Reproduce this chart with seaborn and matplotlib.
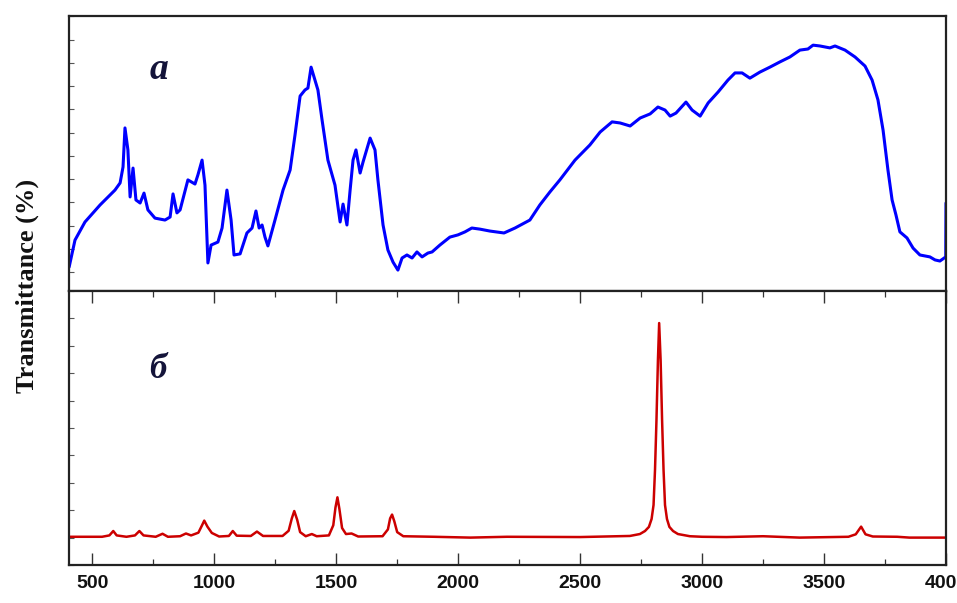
import numpy as np
import pandas as pd
import matplotlib
matplotlib.use("Agg")
import matplotlib.pyplot as plt
from matplotlib.ticker import MultipleLocator, FixedLocator
import seaborn as sns

# ---- spectrum (a): wavenumber (cm-1) and transmittance (arb. %) ----
wn_a = [405, 429, 470, 532, 593, 614, 626, 634, 646, 655, 667, 679, 696, 712, 728,
        757, 798, 819, 831, 847, 860, 892, 921, 933, 950, 962, 974, 987, 1015, 1032,
        1052, 1069, 1081, 1106, 1134, 1155, 1171, 1184, 1196, 1208, 1220, 1249, 1282,
        1311, 1331, 1352, 1372, 1384, 1397, 1413, 1425, 1442, 1466, 1495, 1516, 1528,
        1544, 1557, 1569, 1581, 1598, 1610, 1639, 1659, 1671, 1692, 1712, 1733, 1753,
        1770, 1790, 1811, 1831, 1852, 1876, 1893, 1925, 1966, 1999, 2028, 2056, 2089,
        2130, 2188, 2233, 2294, 2335, 2376, 2417, 2479, 2540, 2582, 2631, 2664, 2705,
        2746, 2787, 2819, 2848, 2869, 2893, 2934, 2959, 2992, 3025, 3066, 3106, 3135,
        3164, 3196, 3237, 3278, 3319, 3360, 3401, 3434, 3455, 3483, 3524, 3545, 3586,
        3627, 3668, 3697, 3721, 3742, 3762, 3779, 3795, 3811, 3840, 3865, 3893, 3934,
        3955, 3975, 3999, 4000]
t_a = [8.7, 18.5, 25.1, 31.3, 36.7, 39.3, 45.1, 59.3, 51.3, 34.2, 44.7, 33.1, 32.0, 35.6, 29.5,
       26.5, 25.8, 26.9, 35.3, 28.4, 29.5, 40.4, 38.9, 42.2, 47.6, 38.5, 10.2, 16.7, 17.8, 22.9,
       36.7, 25.8, 13.1, 13.5, 21.1, 22.9, 29.1, 22.9, 24.0, 19.6, 16.4, 25.8, 36.7,
       44.0, 56.7, 70.9, 73.1, 73.8, 81.4, 76.7, 73.1, 62.2, 47.6, 38.5, 25.1, 31.6,
       24.0, 36.7, 47.6, 51.3, 42.9, 46.9, 55.6, 51.3, 40.4, 24.0, 14.9, 10.5, 7.6,
       12.0, 13.1, 12.0, 14.2, 12.4, 13.8, 14.2, 16.7, 19.6, 20.4, 21.5, 22.9, 22.5,
       21.8, 21.1, 22.9, 25.8, 31.3, 36.0, 40.4, 47.6, 53.1, 57.8, 61.5, 61.1, 60.0,
       62.9, 64.4, 66.9, 65.8, 63.6, 64.7, 68.7, 65.8, 63.6, 68.4, 72.4, 76.7, 79.3,
       79.3, 77.4, 79.6, 81.4, 83.3, 85.1, 87.6, 88.0, 89.4, 89.1, 88.4, 89.1, 87.6,
       85.1, 81.8, 76.7, 69.5, 58.5, 44.0, 33.1, 27.6, 21.5, 19.3, 15.6, 13.1, 12.4,
       11.3, 10.9, 12.4, 32.0]

# ---- spectrum (б) ----
wn_b = [405, 540, 570, 586, 600, 640, 675, 693, 710, 760, 788, 810, 860, 884, 905,
        935, 950, 959, 972, 990, 1020, 1060, 1076, 1092, 1150, 1175, 1200, 1280, 1305,
        1318, 1328, 1340, 1352, 1375, 1400, 1420, 1470, 1488, 1497, 1505, 1513, 1524,
        1540, 1563, 1590, 1690, 1712, 1721, 1729, 1738, 1750, 1775, 1900, 2050, 2200,
        2500, 2704, 2745, 2766, 2782, 2793, 2801, 2807, 2813, 2819, 2824, 2830, 2836,
        2842, 2848, 2856, 2866, 2881, 2901, 2950, 3000, 3100, 3250, 3400, 3600, 3630,
        3652, 3670, 3700, 3800, 3850, 4000]
t_b = [10.3, 10.3, 10.8, 12.4, 10.8, 10.3, 10.8, 12.4, 10.8, 10.3, 11.4, 10.3, 10.5, 11.5, 10.8,
       11.8, 14.5, 16.2, 14.0, 11.7, 10.4, 10.6, 12.4, 10.7, 10.6, 12.2, 10.6, 10.6, 12.5,
       17.0, 19.7, 16.5, 12.0, 10.5, 11.3, 10.5, 10.8, 14.5, 21.0, 24.7, 20.5, 13.5,
       11.3, 11.5, 10.4, 10.5, 13.0, 17.0, 18.4, 16.0, 12.0, 10.5, 10.3, 10.0, 10.3,
       10.2, 10.6, 11.3, 12.4, 13.9, 16.8, 21.9, 34.7, 52.9, 74.8, 88.3, 74.8, 52.9,
       34.7, 21.9, 16.8, 13.9, 12.4, 11.3, 10.5, 10.3, 10.2, 10.5, 10.0, 10.3, 11.2,
       14.0, 11.2, 10.4, 10.3, 10.0, 10.0]

x_ticks = [500, 1000, 1500, 2000, 2500, 3000, 3500, 4000]
y_label = "Transmittance (%)"
panel_labels = ["a", "б"]

df_a = pd.DataFrame({"wn": wn_a, "T": t_a})
df_b = pd.DataFrame({"wn": wn_b, "T": t_b})

sns.set_theme(style="white")
plt.rcParams["font.family"] = ["Liberation Sans", "DejaVu Sans"]

W, H = 957, 603
fig = plt.figure(figsize=(W / 100, H / 100), dpi=100)
left, right = 69, 946
ax1 = fig.add_axes([left / W, 1 - 291 / H, (right - left) / W, 275 / H])
ax2 = fig.add_axes([left / W, 1 - 565 / H, (right - left) / W, 274 / H])

sns.lineplot(data=df_a, x="wn", y="T", ax=ax1, color="#0000ff", linewidth=2.2,
             estimator=None, sort=False, solid_joinstyle="round")
sns.lineplot(data=df_b, x="wn", y="T", ax=ax2, color="#cc0000", linewidth=1.8,
             estimator=None, sort=False, solid_joinstyle="round")

for ax in (ax1, ax2):
    ax.set_xlim(404.5, 4000)
    ax.set_ylim(0, 100)
    ax.set_xlabel("")
    ax.set_ylabel("")
    for side, sp in ax.spines.items():
        sp.set_visible(True)
        sp.set_color("#222222")
        sp.set_linewidth(1.6)
    ax.tick_params(axis="y", which="both", direction="in", length=3.5, width=0.8,
                   color="#555555", left=True, right=False, labelleft=False)

ax1.yaxis.set_major_locator(FixedLocator(np.arange(6.9, 100, 8.45)))
ax2.yaxis.set_major_locator(MultipleLocator(10))

ax1.tick_params(axis="x", which="both", bottom=False, top=False, labelbottom=False)

ax2.xaxis.set_major_locator(FixedLocator(x_ticks))
ax2.xaxis.set_minor_locator(FixedLocator([750, 1250, 1750, 2250, 2750, 3250, 3750]))
ax2.tick_params(axis="x", which="major", direction="in", length=8.5, width=1.0,
                color="#333333", top=True, bottom=True, pad=7)
ax2.tick_params(axis="x", which="minor", direction="in", length=4, width=0.9,
                color="#333333", top=True, bottom=True)
ax2.set_xticklabels([str(v) for v in x_ticks], fontsize=14, fontweight="bold",
                    color="#111111")

fig.text(27 / W, 1 - 286 / H, y_label, rotation=90, ha="center", va="center",
         fontsize=19, fontweight="bold", family=["Liberation Serif", "DejaVu Serif"],
         color="#111111")

ax1.text(0.1026, 0.804, panel_labels[0], transform=ax1.transAxes, ha="center",
         va="center", fontsize=27, fontstyle="italic", fontweight="bold",
         family=["Liberation Serif", "DejaVu Serif"], color="#14143a")
ax2.text(0.1015, 0.712, panel_labels[1], transform=ax2.transAxes, ha="center",
         va="center", fontsize=25, fontstyle="italic", fontweight="bold",
         family=["Liberation Serif", "DejaVu Serif"], color="#14143a")

fig.savefig("out.png", dpi=100)
